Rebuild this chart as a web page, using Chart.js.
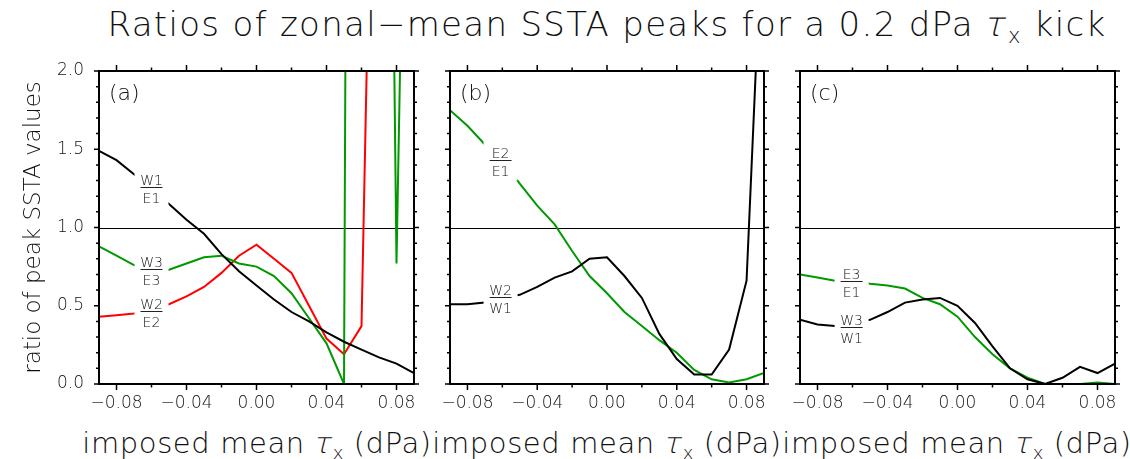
<!DOCTYPE html>
<html>
<head>
<meta charset="utf-8">
<script src="https://cdn.jsdelivr.net/npm/chart.js@4.4.1/dist/chart.umd.min.js"></script>
<style>
  html, body { margin: 0; padding: 0; background: #fff; }
  body { width: 1130px; height: 459px; position: relative; overflow: hidden;
         font-family: 'DejaVu Sans', sans-serif; color: #111; }
  canvas { position: absolute; }
  .title { position: absolute; left: 0; width: 1214px; top: 4px; text-align: center;
           font-size: 34px; font-weight: 200; letter-spacing: 1.3px; white-space: nowrap; }
  .xtitle { position: absolute; top: 426px; width: 400px; text-align: center;
            font-size: 29px; font-weight: 200; letter-spacing: 0.6px; white-space: nowrap; }
  .tau { display: inline-block; font-style: normal; transform: skewX(-14deg); }
  sub { font-size: 62%; vertical-align: -0.35em; line-height: 0; }
</style>
</head>
<body>
<div class="title">Ratios of zonal−mean SSTA peaks for a 0.2 dPa <span class="tau">τ</span><sub>x</sub> kick</div>
<div class="xtitle" style="left:57px">imposed mean <span class="tau">τ</span><sub>x</sub> (dPa)</div>
<div class="xtitle" style="left:407px">imposed mean <span class="tau">τ</span><sub>x</sub> (dPa)</div>
<div class="xtitle" style="left:757px">imposed mean <span class="tau">τ</span><sub>x</sub> (dPa)</div>

<canvas id="panel-a" width="425" height="360" style="left:0;top:60px"></canvas>
<canvas id="panel-b" width="357" height="360" style="left:425px;top:60px"></canvas>
<canvas id="panel-c" width="348" height="360" style="left:782px;top:60px"></canvas>

<script>
// ------------------------------------------------------------
//  data (imposed mean taux, ratios)
// ------------------------------------------------------------
const TAUX = [-0.09, -0.08, -0.07, -0.06, -0.05, -0.04, -0.03, -0.02, -0.01, 0.00,
               0.01,  0.02,  0.03,  0.04,  0.05,  0.06,  0.07,  0.08,  0.09];

const X_TICKS = [-0.08, -0.04, 0.00, 0.04, 0.08];
const X_MINOR = [-0.06, -0.02, 0.02, 0.06];
const Y_TICKS = [0.0, 0.5, 1.0, 1.5, 2.0];
const REF_LINE = 1.0;

// panel (a)
const W1_E1 = [1.49, 1.43, 1.34, 1.25, 1.15, 1.05, 0.96, 0.83, 0.72, 0.63,
               0.54, 0.46, 0.40, 0.33, 0.27, 0.22, 0.17, 0.13, 0.07];
const W2_E2 = [0.43, 0.44, 0.45, 0.48, 0.51, 0.56, 0.62, 0.71, 0.82, 0.89,
               0.80, 0.71, 0.50, 0.29, 0.19, 0.37, 5.9, 8.0, 8.0];
const W3_E3 = [0.88, 0.82, 0.76, 0.72, 0.73, 0.77, 0.81, 0.82, 0.77, 0.75,
               0.69, 0.58, 0.42, 0.26, 0.00, 26.0, 10.7, 0.77, 6.9];

// panel (b)
const E2_E1 = [1.75, 1.65, 1.53, 1.43, 1.28, 1.14, 1.02, 0.85, 0.69, 0.58,
               0.46, 0.37, 0.28, 0.20, 0.09, 0.03, 0.01, 0.03, 0.07];
const W2_W1 = [0.51, 0.51, 0.52, 0.55, 0.57, 0.62, 0.68, 0.72, 0.80, 0.81,
               0.69, 0.55, 0.32, 0.16, 0.06, 0.06, 0.22, 0.66, 3.2];

// panel (c)
const E3_E1 = [0.70, 0.68, 0.66, 0.66, 0.64, 0.63, 0.61, 0.55, 0.51, 0.43,
               0.30, 0.19, 0.10, 0.04, 0.00, 0.00, 0.00, 0.01, 0.00];
const W3_W1 = [0.41, 0.38, 0.37, 0.39, 0.41, 0.46, 0.52, 0.54, 0.55, 0.50,
               0.39, 0.24, 0.10, 0.03, 0.00, 0.04, 0.11, 0.07, 0.13];

const COLORS = { black: '#000000', red: '#ff0000', green: '#009900' };
const FONT = "'DejaVu Sans', sans-serif";

// ------------------------------------------------------------
//  frame, ticks, reference line and in-plot labels
// ------------------------------------------------------------
const framePlugin = {
  id: 'frame',
  beforeDatasetsDraw(chart) {
    const { ctx, chartArea: a, scales: { y } } = chart;
    const py = Math.round(y.getPixelForValue(REF_LINE)) + 0.5;
    ctx.save();
    ctx.strokeStyle = '#000';
    ctx.lineWidth = 1;
    ctx.beginPath();
    ctx.moveTo(a.left, py);
    ctx.lineTo(a.right, py);
    ctx.stroke();
    ctx.restore();
  },
  afterDatasetsDraw(chart, args, opts) {
    const { ctx, chartArea: a, scales: { x, y } } = chart;
    ctx.save();

    // curve labels written as fractions, line broken underneath
    (opts.labels || []).forEach(l => {
      const cx = x.getPixelForValue(l.x);
      const cy = Math.round(y.getPixelForValue(l.y)) + 0.5;
      ctx.fillStyle = '#fff';
      ctx.fillRect(cx - 17, cy - 20, 34, 40);
      ctx.fillStyle = '#111';
      ctx.font = `200 14px ${FONT}`;
      ctx.textAlign = 'center';
      ctx.textBaseline = 'alphabetic';
      ctx.fillText(l.num, cx, cy - 3);
      ctx.fillText(l.den, cx, cy + 15);
      ctx.strokeStyle = '#222';
      ctx.lineWidth = 1;
      ctx.beginPath();
      ctx.moveTo(cx - 11, cy);
      ctx.lineTo(cx + 11, cy);
      ctx.stroke();
    });

    // frame
    ctx.strokeStyle = '#000';
    ctx.lineWidth = 2;
    ctx.strokeRect(a.left, a.top, a.right - a.left, a.bottom - a.top);

    // ticks, pointing outwards
    ctx.lineWidth = 1.5;
    ctx.beginPath();
    const xt = (v, len) => {
      const px = x.getPixelForValue(v);
      ctx.moveTo(px, a.top); ctx.lineTo(px, a.top - len);
      ctx.moveTo(px, a.bottom); ctx.lineTo(px, a.bottom + len);
    };
    X_TICKS.forEach(v => xt(v, 6));
    X_MINOR.forEach(v => xt(v, 3.5));
    for (let i = 0; i <= 20; i++) {
      const v = i / 10;
      const len = i % 5 === 0 ? 5 : 3;
      const py = y.getPixelForValue(v);
      ctx.moveTo(a.left, py); ctx.lineTo(a.left - len, py);
      ctx.moveTo(a.right, py); ctx.lineTo(a.right + len, py);
    }
    ctx.stroke();

    // panel letter
    ctx.fillStyle = '#111';
    ctx.font = `200 22px ${FONT}`;
    ctx.textAlign = 'left';
    ctx.textBaseline = 'alphabetic';
    ctx.fillText(opts.letter, a.left + 10, a.top + 29);
    ctx.restore();
  }
};

const fmtX = v => (v < 0 ? '\u2212' : '') + Math.abs(v).toFixed(2);

function makePanel(id, series, labels, letter, showY, padding) {
  const ctx = document.getElementById(id).getContext('2d');
  return new Chart(ctx, {
    type: 'line',
    data: {
      datasets: series.map(s => ({
        data: TAUX.map((t, i) => ({ x: t, y: s.values[i] })),
        borderColor: s.color,
        borderWidth: 2,
        pointRadius: 0,
        tension: 0,
        fill: false,
      })),
    },
    options: {
      responsive: false,
      animation: false,
      layout: { padding },
      plugins: {
        legend: { display: false },
        tooltip: { enabled: false },
        frame: { labels, letter },
      },
      scales: {
        x: {
          type: 'linear',
          min: -0.09,
          max: 0.09,
          afterBuildTicks: axis => { axis.ticks = X_TICKS.map(v => ({ value: v })); },
          afterFit: axis => { axis.height = 30; },
          grid: { display: false, drawTicks: true, tickLength: 9 },
          border: { display: false },
          ticks: {
            color: '#111',
            padding: 0,
            maxRotation: 0,
            font: { size: 17, family: FONT, weight: 200 },
            callback: v => fmtX(v),
          },
        },
        y: {
          display: showY,
          min: 0,
          max: 2,
          afterBuildTicks: axis => { axis.ticks = Y_TICKS.map(v => ({ value: v })); },
          afterFit: axis => { if (showY) axis.width = 99; },
          grid: { display: false, drawTicks: true, tickLength: 15 },
          border: { display: false },
          ticks: {
            color: '#111',
            padding: 0,
            font: { size: 17, family: FONT, weight: 200 },
            callback: v => v.toFixed(1),
          },
          title: {
            display: true,
            text: 'ratio of peak SSTA values',
            color: '#111',
            padding: { top: 20, bottom: 0 },
            font: { size: 23, family: FONT, weight: 200 },
          },
        },
      },
    },
    plugins: [framePlugin],
  });
}

makePanel('panel-a', [
  { values: W1_E1, color: COLORS.black },
  { values: W3_E3, color: COLORS.green },
  { values: W2_E2, color: COLORS.red },
], [
  { x: -0.06, y: 1.26, num: 'W1', den: 'E1' },
  { x: -0.06, y: 0.733, num: 'W3', den: 'E3' },
  { x: -0.06, y: 0.468, num: 'W2', den: 'E2' },
], '(a)', true, { top: 11, right: 11, bottom: 6, left: 0 });

makePanel('panel-b', [
  { values: W2_W1, color: COLORS.black },
  { values: E2_E1, color: COLORS.green },
], [
  { x: -0.061, y: 1.43, num: 'E2', den: 'E1' },
  { x: -0.061, y: 0.554, num: 'W2', den: 'W1' },
], '(b)', false, { top: 11, right: 18, bottom: 6, left: 25 });

makePanel('panel-c', [
  { values: W3_W1, color: COLORS.black },
  { values: E3_E1, color: COLORS.green },
], [
  { x: -0.0605, y: 0.66, num: 'E3', den: 'E1' },
  { x: -0.0605, y: 0.366, num: 'W3', den: 'W1' },
], '(c)', false, { top: 11, right: 15, bottom: 6, left: 18 });
</script>
</body>
</html>
